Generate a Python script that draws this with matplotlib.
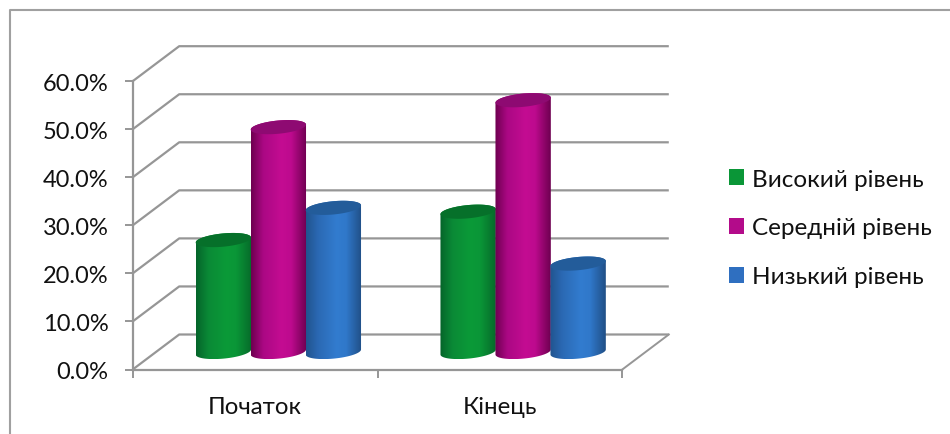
import matplotlib
matplotlib.use("Agg")
import matplotlib.pyplot as plt
import numpy as np
from matplotlib.colors import LinearSegmentedColormap
from matplotlib.lines import Line2D
from matplotlib.patches import Patch, Polygon

plt.rcParams["font.family"] = ["Lato", "Open Sans"]

categories = ["Початок", "Кінець"]
series_names = ["Високий рівень", "Середній рівень", "Низький рівень"]
high = [23.3, 29.2]
middle = [46.8, 52.4]
low = [30.0, 18.4]
yticks = [0, 10, 20, 30, 40, 50, 60]

GRID = "#969696"
side_colors = [
    ["#05642a", "#0a8a36", "#0b9a38", "#0a9637", "#066a2a"],
    ["#6e0050", "#ab0884", "#c40c92", "#bd0a8e", "#6e0050"],
    ["#21548f", "#2b69b4", "#327ccf", "#3078ca", "#204f86"],
]
top_colors = ["#06702a", "#8e0a72", "#235c9a"]
legend_colors = ["#0a9637", "#b30b8a", "#2f6fc0"]

W, H = 950, 435
x0, x1, y0, y60 = 132.7, 622.3, 370.5, 82.2
px_per_cat = (x1 - x0) / 2
px_per_val = (y0 - y60) / 60
depth_x = 46.5 / px_per_cat
depth_y = 35.0 / px_per_val
bar_w = 55.0 / px_per_cat
A, B, tilt = 27.8, 6.6, np.deg2rad(5.5)


def ellipse(cx, cy, t):
    # ellipse given in pixels, handed back in data units
    ex = A * np.cos(t) * np.cos(tilt) - B * np.sin(t) * np.sin(tilt)
    ey = A * np.cos(t) * np.sin(tilt) + B * np.sin(t) * np.cos(tilt)
    return cx + ex / px_per_cat, cy + ey / px_per_val


def cylinder(ax, cx, value, k):
    base = depth_y / 2
    top = base + value
    tb = np.linspace(np.pi, 2 * np.pi, 60)
    tt = np.linspace(0, np.pi, 60)
    bx, by = ellipse(cx, base, tb)
    ux, uy = ellipse(cx, top, tt)
    outline = np.column_stack([np.r_[bx, ux], np.r_[by, uy]])
    clip = Polygon(outline, closed=True, transform=ax.transData, fc="none", ec="none")
    ax.add_patch(clip)
    cmap = LinearSegmentedColormap.from_list(
        "side", list(zip([0, 0.22, 0.55, 0.72, 1], side_colors[k]))
    )
    grad = np.linspace(0, 1, 128).reshape(1, -1)
    half = A / px_per_cat
    im = ax.imshow(grad, cmap=cmap, aspect="auto", zorder=3 + k * 0.1,
                   extent=(cx - half, cx + half, by.min(), uy.max()), clip_on=True)
    im.set_clip_path(clip)
    t = np.linspace(0, 2 * np.pi, 120)
    ex, ey = ellipse(cx, top, t)
    ax.fill(ex, ey, color=top_colors[k], lw=0, zorder=3.05 + k * 0.1, clip_on=False)


fig = plt.figure(figsize=(W / 100, H / 100), dpi=100)
ax = fig.add_axes([x0 / W, 1 - y0 / H, (x1 - x0) / W, (y0 - y60) / H])
ax.patch.set_alpha(0)

# chart frame, only the top and left edges fall inside the picture
frame_x = [9.5 / W, 9.5 / W, 1]
frame_y = [0, 1 - 10.5 / H, 1 - 10.5 / H]
fig.add_artist(Line2D(frame_x, frame_y, transform=fig.transFigure, color="#a0a0a0", lw=1.5))

# back wall and side wall gridlines
for v in yticks:
    ax.plot([0, depth_x, 2 + depth_x], [v, v + depth_y, v + depth_y],
            color=GRID, lw=1.6, clip_on=False, zorder=1, solid_capstyle="butt")
ax.plot([2, 2 + depth_x], [0, depth_y], color=GRID, lw=1.4, clip_on=False, zorder=1)

for k, values in enumerate([high, middle, low]):
    for c, value in enumerate(values):
        cylinder(ax, c + 0.5 + depth_x / 2 + (k - 1) * bar_w, value, k)

ax.set_xlim(0, 2)
ax.set_ylim(0, 60)
for side in ["top", "right"]:
    ax.spines[side].set_visible(False)
for side in ["left", "bottom"]:
    ax.spines[side].set_color(GRID)
    ax.spines[side].set_linewidth(1.6)

ax.set_yticks(yticks)
ax.set_yticklabels([f"{v:.1f}%" for v in yticks])
ax.set_xticks([0, 1, 2])
ax.set_xticklabels([])
ax.set_xticks([0.5, 1.5], minor=True)
ax.set_xticklabels(categories, minor=True)
ax.tick_params(axis="y", length=5.5, width=1.4, color=GRID, pad=12, labelsize=17, labelcolor="#111111")
ax.tick_params(axis="x", which="major", length=6, width=1.4, color=GRID)
ax.tick_params(axis="x", which="minor", length=0, pad=19, labelsize=17.3, labelcolor="#111111")

handles = [Patch(color=c, lw=0) for c in legend_colors]
fig.legend(handles, series_names, loc="center left", bbox_to_anchor=(729 / W, 1 - 229 / H),
           frameon=False, fontsize=17.5, borderpad=0, borderaxespad=0, handlelength=0.62,
           handleheight=0.62, handletextpad=0.33, labelspacing=1.14, labelcolor="#111111")

fig.savefig("out.png", dpi=100)
